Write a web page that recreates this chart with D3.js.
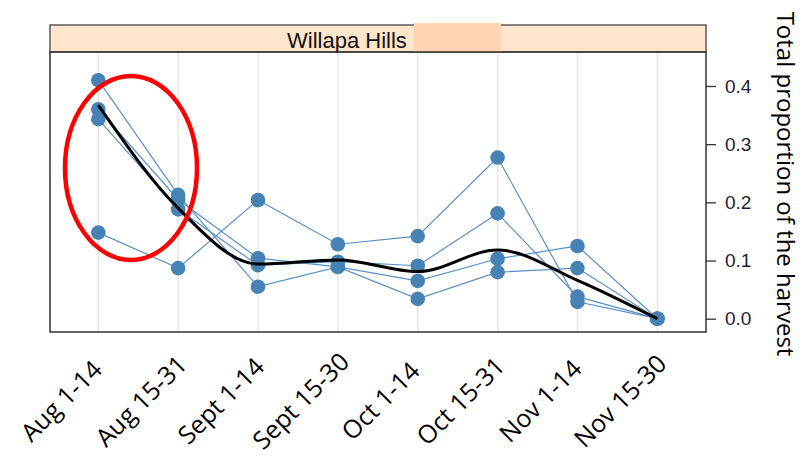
<!DOCTYPE html>
<html>
<head>
<meta charset="utf-8">
<script src="https://cdn.jsdelivr.net/npm/d3@7"></script>
<style>
  body { margin: 0; background: #fff; }
  svg { display: block; }
</style>
</head>
<body>
<div id="dataviz"></div>
<script>
// categories (harvest periods)
var periods = ["Aug 1-14", "Aug 15-31", "Sept 1-14", "Sept 15-30",
               "Oct 1-14", "Oct 15-31", "Nov 1-14", "Nov 15-30"];

// proportion of harvest per period, one array per series
var seriesA = [0.410, 0.213, 0.055, 0.089, 0.034, 0.080, 0.087, 0.000];
var seriesB = [0.148, 0.087, 0.204, 0.128, 0.142, 0.277, 0.029, 0.000];
var seriesC = [0.360, 0.205, 0.104, 0.089, 0.065, 0.103, 0.125, 0.000];
var seriesD = [0.343, 0.188, 0.092, 0.098, 0.091, 0.181, 0.038, 0.000];

// smoothed trend (black line)
var trend = [0.367, 0.190, 0.094, 0.101, 0.081, 0.118, 0.066, 0.000];

var yTicks = [0.0, 0.1, 0.2, 0.3, 0.4];
var stripLabel = "Willapa Hills";
var axisTitle = "Total proportion of the harvest";

var width = 804, height = 462;

// panel box
var panel = {left: 50, right: 706, top: 52, bottom: 332};
var strip = {top: 25, bottom: 52};

var svg = d3.select("#dataviz")
  .append("svg")
    .attr("width", width)
    .attr("height", height);

svg.append("rect")
    .attr("width", width)
    .attr("height", height)
    .attr("fill", "#fff");

// scales
var x = d3.scalePoint()
  .domain(periods)
  .range([98.3, 657.3]);

var y = d3.scaleLinear()
  .domain([0, 0.4])
  .range([318.7, 86]);

// vertical grid lines
svg.append("g")
  .selectAll("line")
  .data(periods)
  .enter()
  .append("line")
    .attr("x1", function(d) { return x(d); })
    .attr("x2", function(d) { return x(d); })
    .attr("y1", panel.top)
    .attr("y2", panel.bottom)
    .attr("stroke", "#e6e6e6")
    .attr("stroke-width", 1.5);

// strip on top
svg.append("rect")
    .attr("x", panel.left)
    .attr("y", strip.top)
    .attr("width", panel.right - panel.left)
    .attr("height", strip.bottom - strip.top)
    .attr("fill", "#ffe5cc")
    .attr("stroke", "#333")
    .attr("stroke-width", 1.2);

svg.append("text")
    .attr("x", 287)
    .attr("y", 48)
    .attr("font-family", "'Liberation Sans', Arial, sans-serif")
    .attr("font-size", 22)
    .attr("fill", "#111")
    .text(stripLabel);

// pasted patch over the strip
svg.append("rect")
    .attr("x", 414)
    .attr("y", 23)
    .attr("width", 87)
    .attr("height", 29)
    .attr("fill", "#fdd5b4");

// panel border
svg.append("rect")
    .attr("x", panel.left)
    .attr("y", panel.top)
    .attr("width", panel.right - panel.left)
    .attr("height", panel.bottom - panel.top)
    .attr("fill", "none")
    .attr("stroke", "#333")
    .attr("stroke-width", 1.5);

// right axis
var yAxis = svg.append("g")
    .attr("transform", "translate(" + panel.right + ",0)")
    .call(d3.axisRight(y).tickValues(yTicks).tickFormat(d3.format(".1f")).tickSize(10).tickPadding(9));

yAxis.select(".domain").remove();
yAxis.selectAll(".tick line").attr("stroke", "#333").attr("stroke-width", 1.3);
yAxis.selectAll(".tick text")
    .attr("font-family", "'Liberation Sans', Arial, sans-serif")
    .attr("font-size", 19)
    .attr("fill", "#1e1e32");

// series lines and points
var allSeries = [seriesA, seriesB, seriesC, seriesD];

var line = d3.line()
    .x(function(d, i) { return x(periods[i]); })
    .y(function(d) { return y(d); });

svg.append("g")
  .selectAll("path")
  .data(allSeries)
  .enter()
  .append("path")
    .attr("d", line)
    .attr("fill", "none")
    .attr("stroke", "#5b8fc6")
    .attr("stroke-width", 1.2);

allSeries.forEach(function(s) {
  svg.append("g")
    .selectAll("circle")
    .data(s)
    .enter()
    .append("circle")
      .attr("cx", function(d, i) { return x(periods[i]); })
      .attr("cy", function(d) { return y(d); })
      .attr("r", 7.3)
      .attr("fill", "#4682b4");
});

// smoothed trend
svg.append("path")
  .datum(trend)
    .attr("d", d3.line()
      .curve(d3.curveMonotoneX)
      .x(function(d, i) { return x(periods[i]); })
      .y(function(d) { return y(d); }))
    .attr("fill", "none")
    .attr("stroke", "#000")
    .attr("stroke-width", 3)
    .attr("stroke-linejoin", "round");

// x labels, rotated
svg.append("g")
  .selectAll("text")
  .data(periods)
  .enter()
  .append("text")
    .attr("transform", function(d) {
      return "translate(" + (x(d) - 37) + ",401) rotate(-45)";
    })
    .attr("text-anchor", "middle")
    .attr("dy", "0.35em")
    .attr("font-family", "'Open Sans', sans-serif")
    .attr("font-size", 25)
    .attr("fill", "#000")
    .text(function(d) { return d; });

// right axis title
svg.append("text")
    .attr("transform", "translate(777,184) rotate(90)")
    .attr("text-anchor", "middle")
    .attr("font-family", "'Open Sans', sans-serif")
    .attr("font-size", 24)
    .attr("fill", "#000")
    .text(axisTitle);

// red annotation ellipse
svg.append("ellipse")
    .attr("cx", 131)
    .attr("cy", 168)
    .attr("rx", 66)
    .attr("ry", 92)
    .attr("fill", "none")
    .attr("stroke", "#ff0000")
    .attr("stroke-width", 4.5);
</script>
</body>
</html>
